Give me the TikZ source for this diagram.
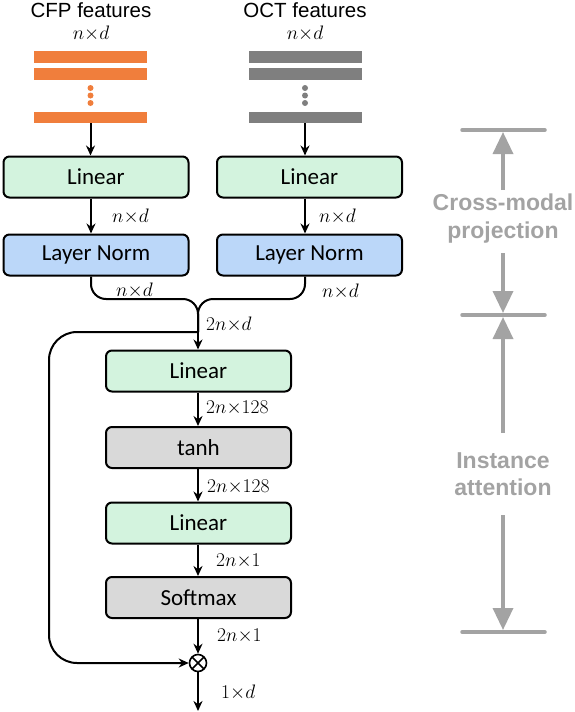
\RequirePackage{fix-cm}
\documentclass[tikz,border=0pt]{standalone}
\usepackage{fontspec}
\setmainfont{Carlito}
\newfontfamily\arialfont{Liberation Sans}
\usepackage{tikz}
\usetikzlibrary{positioning,arrows.meta}
\definecolor{cfpOrange}{RGB}{240,126,60}
\definecolor{octGray}{RGB}{127,127,127}
\definecolor{linGreen}{RGB}{211,243,222}
\definecolor{normBlue}{RGB}{187,215,249}
\definecolor{actGray}{RGB}{217,217,217}
\definecolor{noteGray}{RGB}{163,163,163}
\newcommand*{\boxW}{185pt}
\newcommand*{\boxH}{41pt}
\newcommand*{\barW}{113pt}
\newcommand*{\barH}{11.5pt}
\tikzset{
    block/.style={draw, line width=2pt, rounded corners=6pt, minimum width=\boxW,
        minimum height=\boxH, inner sep=0pt, font=\fontsize{23}{27}\selectfont},
    featbar/.style={rectangle, minimum width=\barW, minimum height=\barH, inner sep=0pt},
    title/.style={font=\arialfont\fontsize{20.5}{24}\selectfont, anchor=base},
    dim/.style={font=\fontsize{19.5}{22}\selectfont, inner sep=0pt},
    link/.style={line width=2pt},
    arr/.style={link, -{Stealth[length=10pt,width=9pt]}},
    note/.style={font=\arialfont\bfseries\fontsize{23}{27}\selectfont, text=noteGray, anchor=base},
    noteLine/.style={line width=3.5pt, noteGray, line cap=round},
    noteArrow/.style={line width=3.5pt, noteGray, -{Triangle[length=22pt,width=20pt]}}
}

\begin{document}
\begin{tikzpicture}[x=1pt, y=-1pt]
    \useasboundingbox (0,0) rectangle (574,712);

    % input features
    \node[title] (cfpT) at (91,17) {CFP features};
    \node[title] (octT) at (305,17) {OCT features};
    \node[dim, anchor=base] (cfpD) at (91,39) {$n{\times}d$};
    \node[dim, anchor=base] (octD) at (305,39) {$n{\times}d$};
    \foreach \x/\c/\n in {90.5/cfpOrange/cfp, 305/octGray/oct} {
        \node[featbar, fill=\c] (\n1) at (\x,57) {};
        \node[featbar, fill=\c] (\n2) at (\x,74) {};
        \node[featbar, fill=\c] (\n3) at (\x,117.5) {};
        \foreach \y in {88,95.5,103}
            \fill[\c] (\x,\y) circle (3pt);
    }

    % projection branches
    \node[block, fill=linGreen] (linL) at (96,177) {Linear};
    \node[block, fill=normBlue] (lnL) at (96,255) {Layer Norm};
    \node[block, fill=linGreen] (linR) at (309.5,177) {Linear};
    \node[block, fill=normBlue] (lnR) at (309.5,255) {Layer Norm};

    \draw[arr] (cfp3.south) -- (cfp3.south |- linL.north);
    \draw[arr] (oct3.south) -- (oct3.south |- linR.north);
    \draw[arr] ([xshift=-5pt]linL.south) -- ([xshift=-5pt]lnL.north);
    \draw[arr] ([xshift=-4.5pt]linR.south) -- ([xshift=-4.5pt]lnR.north);
    \node[dim, anchor=base west] (ndL1) at (112,222) {$n{\times}d$};
    \node[dim, anchor=base west] (ndR1) at (319,222) {$n{\times}d$};
    \node[dim, anchor=base west] (ndL2) at (116,296) {$n{\times}d$};
    \node[dim, anchor=base west] (ndR2) at (322,297) {$n{\times}d$};

    % instance attention
    \node[block, fill=linGreen] (lin1) at (198.5,371) {Linear};
    \node[block, fill=actGray] (tanh) at (198.5,447.5) {tanh};
    \node[block, fill=linGreen] (lin2) at (198.5,523) {Linear};
    \node[block, fill=actGray] (soft) at (198.5,597.5) {Softmax};
    \node[circle, draw, line width=1.6pt, minimum size=17pt, inner sep=0pt,
        path picture={\draw[line width=1.6pt]
            (path picture bounding box.north west) -- (path picture bounding box.south east)
            (path picture bounding box.south west) -- (path picture bounding box.north east);}]
        (mul) at (198,663) {};
    \coordinate (join) at (198,299);
    \coordinate (merge) at (198,332);
    \coordinate (loopC) at (49,663);
    \coordinate (out) at (198,711);

    \draw[link, rounded corners=15pt] ([xshift=-5pt]lnL.south) |- (join) -- (merge);
    \draw[link, rounded corners=15pt] ([xshift=-4.5pt]lnR.south) |- (join) -- (merge);
    \draw[arr] (merge) -- (merge |- lin1.north);
    \draw[arr, rounded corners=28pt] (merge) -| (loopC) -- (mul.west);
    \draw[arr] (lin1.south -| mul) -- (mul |- tanh.north);
    \draw[arr] (tanh.south -| mul) -- (mul |- lin2.north);
    \draw[arr] (lin2.south -| mul) -- (mul |- soft.north);
    \draw[arr] (soft.south -| mul) -- (mul.north);
    \draw[arr] (mul.south) -- (out);
    \node[dim, anchor=base west] (d2nd) at (206,330) {$2n{\times}d$};
    \node[dim, anchor=base west] (d128a) at (206,413) {$2n{\times}128$};
    \node[dim, anchor=base west] (d128b) at (207,492) {$2n{\times}128$};
    \node[dim, anchor=base west] (d1a) at (216,566) {$2n{\times}1$};
    \node[dim, anchor=base west] (d1b) at (217,641) {$2n{\times}1$};
    \node[dim, anchor=base west] (d1d) at (221,698) {$1{\times}d$};

    % stage annotations
    \foreach \y/\n in {130/barA, 315/barB, 632/barC} {
        \draw[noteLine] (462,\y) -- (545,\y);
        \coordinate (\n) at (503,\y);
    }
    \node[note] (cmA) at (503,210) {Cross-modal};
    \node[note] (cmB) at (503,238) {projection};
    \node[note] (iaA) at (503,468) {Instance};
    \node[note] (iaB) at (503,495) {attention};
    \coordinate (cmUp) at (503,190);
    \coordinate (cmDown) at (503,253);
    \coordinate (iaUp) at (503,433);
    \coordinate (iaDown) at (503,515);
    \draw[noteArrow] (cmUp) -- ([yshift=-2pt]barA);
    \draw[noteArrow] (cmDown) -- ([yshift=2pt]barB);
    \draw[noteArrow] (iaUp) -- ([yshift=-2pt]barB);
    \draw[noteArrow] (iaDown) -- ([yshift=2pt]barC);
\end{tikzpicture}
\end{document}
